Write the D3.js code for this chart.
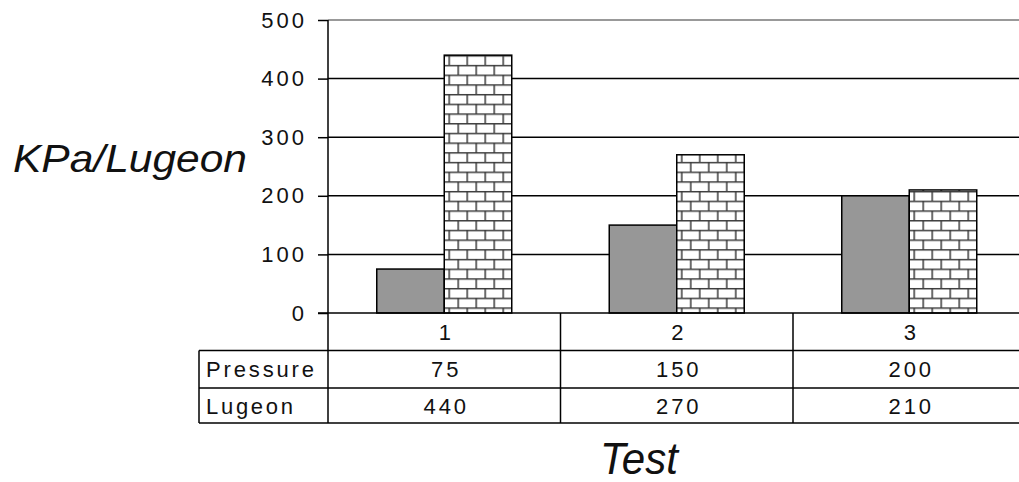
<!DOCTYPE html>
<html>
<head>
<meta charset="utf-8">
<script src="https://cdn.jsdelivr.net/npm/d3@7"></script>
<style>
  html, body { margin: 0; padding: 0; background: #fff; }
  svg { display: block; }
  text { font-family: "Liberation Sans", Arial, sans-serif; fill: #111; }
</style>
</head>
<body>
<svg id="chart" width="1019" height="482"></svg>
<script>
const categories = ["1", "2", "3"]
const seriesNames = ["Pressure", "Lugeon"]
const pressure = [75, 150, 200]
const lugeon = [440, 270, 210]
const yTicks = [0, 100, 200, 300, 400, 500]

const svg = d3.select("#chart")

const plotLeft = 328, plotRight = 1025.5
const plotTop = 20, plotBottom = 313
const tableLeft = 199
const rowEdges = [313, 350.5, 388, 423]

const x = d3.scaleBand().domain(categories).range([plotLeft, plotRight]).paddingInner(0).paddingOuter(0)
const barW = 67.5
const x1 = d3.scaleBand().domain(seriesNames)
    .range([x.bandwidth() / 2 - barW, x.bandwidth() / 2 + barW])
const y = d3.scaleLinear().domain([0, 500]).range([plotBottom, plotTop])

// brick pattern
const defs = svg.append("defs")
const pat = defs.append("pattern")
    .attr("id", "brick")
    .attr("patternUnits", "userSpaceOnUse")
    .attr("width", 18).attr("height", 19.4)
    .attr("x", x(categories[0]) + x1("Lugeon"))
    .attr("y", y(lugeon[0]))
pat.append("rect").attr("width", 18).attr("height", 19.4).attr("fill", "#fff")
const mortar = "M0,0.75H18M0,10.45H18M1,0V9.7M10,9.7V19.4"
pat.append("path").attr("d", mortar).attr("stroke", "#3a3a3a").attr("stroke-width", 1.5).attr("fill", "none")

// gridlines
svg.append("g")
  .selectAll("line")
  .data(yTicks.filter(d => d > 0))
  .join("line")
    .attr("x1", plotLeft).attr("x2", 1019)
    .attr("y1", d => y(d)).attr("y2", d => y(d))
    .attr("stroke", d => d === 500 ? "#999" : "#000")
    .attr("stroke-width", d => d === 500 ? 2 : 1.5)

// y axis
const yAxis = d3.axisLeft(y).tickValues(yTicks).tickSize(10).tickPadding(11)
const gy = svg.append("g").attr("transform", `translate(${plotLeft},0)`).call(yAxis)
gy.select(".domain").remove()
gy.selectAll(".tick line").attr("stroke", "#000").attr("stroke-width", 1.5)
gy.selectAll(".tick text")
    .attr("font-family", "Liberation Sans, Arial, sans-serif")
    .attr("font-size", 22).attr("letter-spacing", "3px").attr("fill", "#111")
svg.append("line")
    .attr("x1", plotLeft).attr("x2", plotLeft)
    .attr("y1", plotTop).attr("y2", rowEdges[3])
    .attr("stroke", "#000").attr("stroke-width", 1.5)

// bars
const values = { Pressure: pressure, Lugeon: lugeon }
const groups = svg.append("g")
  .selectAll("g")
  .data(categories)
  .join("g")
    .attr("transform", d => `translate(${x(d)},0)`)

groups.selectAll("rect")
  .data((d, i) => seriesNames.map(s => ({ s, v: values[s][i] })))
  .join("rect")
    .attr("x", d => x1(d.s))
    .attr("width", x1.bandwidth())
    .attr("y", d => y(d.v))
    .attr("height", d => y(0) - y(d.v))
    .attr("fill", d => d.s === "Pressure" ? "#979797" : "url(#brick)")
    .attr("stroke", "#000")
    .attr("stroke-width", 1.5)

// data table
const table = svg.append("g")
table.append("line")
    .attr("x1", 318).attr("x2", 1019)
    .attr("y1", rowEdges[0]).attr("y2", rowEdges[0])
    .attr("stroke", "#000").attr("stroke-width", 1.5)
rowEdges.slice(1).forEach(r => {
  table.append("line")
      .attr("x1", tableLeft).attr("x2", 1019)
      .attr("y1", r).attr("y2", r)
      .attr("stroke", "#000").attr("stroke-width", 1.5)
})
table.append("line")
    .attr("x1", tableLeft).attr("x2", tableLeft)
    .attr("y1", rowEdges[1]).attr("y2", rowEdges[3])
    .attr("stroke", "#000").attr("stroke-width", 1.5)
table.selectAll(".vsep")
  .data(categories.slice(1))
  .join("line")
    .attr("class", "vsep")
    .attr("x1", d => x(d)).attr("x2", d => x(d))
    .attr("y1", rowEdges[0]).attr("y2", rowEdges[3])
    .attr("stroke", "#000").attr("stroke-width", 1.5)

const cellFont = t => t.attr("font-size", 22).attr("letter-spacing", "3px")
table.selectAll(".cat")
  .data(categories)
  .join("text")
    .attr("class", "cat")
    .attr("x", d => x(d) + x.bandwidth() / 2 + 2)
    .attr("y", (rowEdges[0] + rowEdges[1]) / 2 + 8)
    .attr("text-anchor", "middle")
    .text(d => d)
    .call(cellFont)

seriesNames.forEach((s, si) => {
  const mid = (rowEdges[si + 1] + rowEdges[si + 2]) / 2 + 8
  table.append("text")
      .attr("x", tableLeft + 7)
      .attr("y", mid)
      .attr("textLength", s === "Pressure" ? 111 : 90)
      .text(s)
      .call(cellFont)
  table.selectAll(".v" + s)
    .data(values[s])
    .join("text")
      .attr("x", (d, i) => x(categories[i]) + x.bandwidth() / 2 + 2)
      .attr("y", mid)
      .attr("text-anchor", "middle")
      .text(d => d)
      .call(cellFont)
})

// axis titles
svg.append("text")
    .attr("x", 13).attr("y", 172)
    .attr("font-size", 38).attr("font-style", "italic")
    .attr("textLength", 234).attr("lengthAdjust", "spacingAndGlyphs")
    .text("KPa/Lugeon")
svg.append("text")
    .attr("x", 600).attr("y", 474)
    .attr("font-size", 44).attr("font-style", "italic")
    .attr("textLength", 78).attr("lengthAdjust", "spacingAndGlyphs")
    .text("Test")
</script>
</body>
</html>
